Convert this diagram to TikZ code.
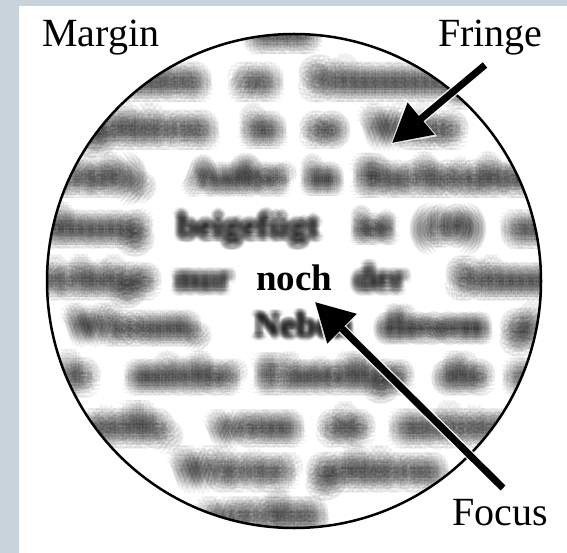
\documentclass[tikz,border=0pt]{standalone}
\usepackage{fontspec}
\setmainfont{Liberation Serif}
\usetikzlibrary{arrows.meta}
\definecolor{bgblue}{RGB}{201,211,219}
\tikzset{
  lbl/.style={font=\fontsize{40}{40}\selectfont, anchor=base west, inner sep=0pt},
  blurtxt/.style={font=\fontsize{36}{36}\selectfont\bfseries, anchor=base west, inner sep=0pt, text=black, text opacity=0.058},
  sharptxt/.style={font=\fontsize{37}{37}\selectfont\bfseries, anchor=base west, inner sep=0pt},
  pointer/.style={line width=7pt, -{Triangle[length=38pt,width=40pt]}},
  halo/.style={line width=10pt, white, opacity=0.8, shorten >=-2pt, -{Triangle[length=41pt,width=45pt]}},
}
\newcommand{\bw}[4]{%
  \foreach \ang in {0,22.5,...,337.5}{%
    \node[blurtxt] at ([shift={(\ang:#3)}]#1,#2) {#4};}%
  \foreach \ang in {15,45,...,345}{%
    \node[blurtxt] at ([shift={(\ang:#3*0.66)}]#1,#2) {#4};}%
  \foreach \ang in {0,45,...,315}{%
    \node[blurtxt] at ([shift={(\ang:#3*0.33)}]#1,#2) {#4};}%
}
\begin{document}
\begin{tikzpicture}[x=1pt,y=-1pt]
\useasboundingbox (0,0) rectangle (567,553);
\fill[bgblue] (0,0) rectangle (567,553);
\fill[white] (19,6) rectangle (567,553);
\begin{scope}
  \clip (294,281) circle[radius=247];
  % row 0
  \bw{252}{43}{12}{und}
  % row 1
  \bw{90}{91}{12}{nennen}
  \bw{238}{91}{12}{zu}
  \bw{308}{91}{12}{Stimmung}
  % row 2
  \bw{86}{139}{12}{gehören}
  \bw{248}{139}{11}{in}
  \bw{309}{139}{11}{so}
  \bw{368}{139}{12}{Weise}
  % row 3
  \bw{52}{188}{11}{trieb),}
  \bw{190}{188}{9.5}{Außer}
  \bw{307}{188}{9}{in}
  \bw{360}{188}{11}{Buchstaben}
  % row 4
  \bw{2}{238}{11}{Ordnung}
  \bw{177}{238}{5}{beigefügt}
  \bw{356}{238}{8}{ist}
  \bw{418}{238}{10}{(10)}
  \bw{510}{238}{12}{und}
  % row 5
  \bw{34}{290}{11}{richtige}
  \bw{175}{290}{6}{nur}
  \bw{354}{290}{6}{der}
  \bw{454}{290}{11}{Stimmung}
  % row 6
  \bw{70}{337}{10.5}{Wissum,}
  \bw{254}{337}{4}{Neben}
  \bw{380}{337}{8.5}{diesem}
  \bw{510}{337}{12}{gi}
  % row 7
  \bw{64}{386}{12}{le}
  \bw{132}{386}{10.5}{mittler}
  \bw{260}{386}{10}{Einteilige}
  \bw{440}{386}{10.5}{die}
  \bw{512}{386}{12}{n}
  % row 8
  \bw{86}{437}{12}{stelle,}
  \bw{214}{437}{11}{wenn}
  \bw{326}{437}{11}{sie}
  \bw{398}{437}{12}{meisten}
  % row 9
  \bw{178}{481}{12}{Wörter}
  \bw{316}{481}{12}{gehören}
  % row 10
  \bw{205}{525}{12}{werden}
  \node[sharptxt] (noch) at (256,290) {noch};
\end{scope}
\draw[line width=2.5pt] (294,281) circle[radius=247];
\node[lbl] (margin) at (42,47) {Margin};
\node[lbl] (fringe) at (438,47) {Fringe};
\node[lbl] (focus) at (452,525) {Focus};
\coordinate (fringetail) at (485,65);
\coordinate (fringetip) at (392,143);
\coordinate (focustail) at (503,488);
\coordinate (focustip) at (315,302);
\draw[halo] (fringetail) -- (fringetip);
\draw[pointer] (fringetail) -- (fringetip);
\draw[halo] (focustail) -- (focustip);
\draw[pointer] (focustail) -- (focustip);
\end{tikzpicture}
\end{document}
